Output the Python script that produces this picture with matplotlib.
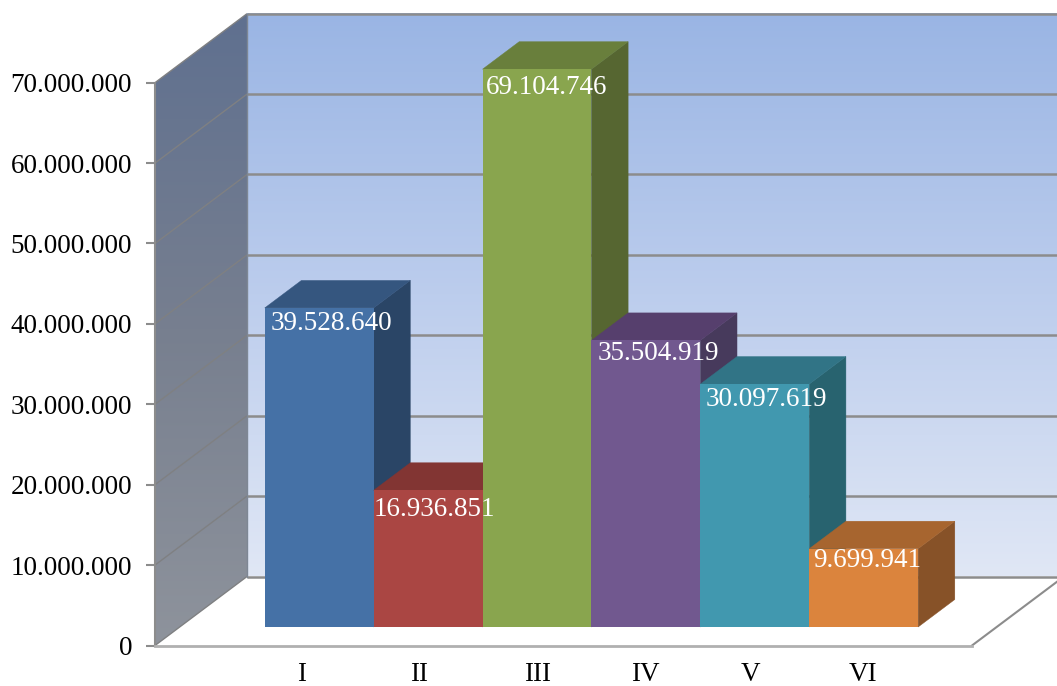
import numpy as np
import matplotlib
matplotlib.use("Agg")
import matplotlib.pyplot as plt
from matplotlib.patches import Polygon
from matplotlib.colors import LinearSegmentedColormap

categories = ["I", "II", "III", "IV", "V", "VI"]
values = [39528640, 16936851, 69104746, 35504919, 30097619, 9699941]
value_labels = ["39.528.640", "16.936.851", "69.104.746", "35.504.919", "30.097.619", "9.699.941"]
y_ticks = [0, 10000000, 20000000, 30000000, 40000000, 50000000, 60000000, 70000000]
y_tick_labels = ["0", "10.000.000", "20.000.000", "30.000.000", "40.000.000", "50.000.000", "60.000.000", "70.000.000"]

front_colors = ["#4571A6", "#AA4643", "#89A54E", "#71588F", "#4198AF", "#DB843D"]
top_colors = ["#35567F", "#823533", "#697F3C", "#563F6D", "#317486", "#A7652F"]
side_colors = ["#2A4566", "#6A2B2A", "#566631", "#473A5C", "#28636F", "#875228"]

# layout (pixels of the 1057x686 canvas)
W, H = 1057, 686
AX_L, AX_B = 155, 645.5
CAT_W = 108.9
CAT0 = 319.2
PX_PER_UNIT = 80.4 / 1e7
WALL_DX, WALL_DY = 92.0, 69.0
BAR_D0, BAR_D1 = 18.5 / 69, 46 / 69
BAR_SCALE = 1.004
FLOOR_RIGHT = 972
FONT_SIZE = 19.5
cat_label_nudge = [-18, -9, 1, -1, -4, -1]
val_label_dx = [6, 0, 3, 6, 5, 4]
val_label_dy = [16, 19, 18, 13, 15, 12]

plt.rcParams["font.family"] = ["Liberation Serif", "DejaVu Serif"]
fig = plt.figure(figsize=(W / 100, H / 100), dpi=100, facecolor="white")
ax = fig.add_axes([AX_L / W, (H - AX_B) / H, (W - AX_L) / W, AX_B / H])
xlim = ((AX_L - CAT0) / CAT_W, (W - CAT0) / CAT_W)
ylim = (0, AX_B / PX_PER_UNIT)


def project(c, v, d):
    """Category / value / depth (0 front, 1 back wall) to axes data coordinates."""
    return c + (d - BAR_D0) * WALL_DX / CAT_W, v + d * WALL_DY / PX_PER_UNIT


left_c = xlim[0] + BAR_D0 * WALL_DX / CAT_W
right_c = (FLOOR_RIGHT - CAT0) / CAT_W + BAR_D0 * WALL_DX / CAT_W
top_v = y_ticks[-1]

# back wall gradient
back_cmap = LinearSegmentedColormap.from_list("back", ["#9AB5E4", "#BCCDED", "#E0E7F5"])
x_back, y_top = project(left_c, top_v, 1)
_, y_bot = project(left_c, 0, 1)
ax.imshow(np.linspace(0, 1, 256)[:, None], cmap=back_cmap, aspect="auto", origin="upper",
          extent=(x_back, xlim[1], y_bot, y_top), zorder=1)

# left wall gradient, clipped to its parallelogram
side_cmap = LinearSegmentedColormap.from_list("side", ["#5F7090", "#777F8F", "#8E939C"])
wall_pts = [project(left_c, 0, 0), project(left_c, top_v, 0), project(left_c, top_v, 1), project(left_c, 0, 1)]
wall_poly = Polygon(wall_pts, closed=True, fc="none", ec="none", transform=ax.transData)
ax.add_patch(wall_poly)
im = ax.imshow(np.linspace(0, 1, 256)[:, None], cmap=side_cmap, aspect="auto", origin="upper",
               extent=(xlim[0], x_back, 0, y_top), zorder=1.1)
im.set_clip_path(wall_poly)

# gridlines
GRID = "#8C8C8C"
for t in y_ticks:
    x0, y0 = project(left_c, t, 0)
    x1, y1 = project(left_c, t, 1)
    ax.plot([x0, x1], [y0, y1], color="#7F8082", lw=1.0, zorder=1.5, solid_capstyle="butt")
    ax.plot([x1, xlim[1]], [y1, y1], color=GRID, lw=1.8, zorder=1.5, solid_capstyle="butt")
ax.plot([x_back, x_back], [y_bot, y_top], color="#7E8794", lw=1.0, zorder=1.6)

# floor right edge
fx0, fy0 = project(right_c, 0, 0)
fx1, fy1 = project(right_c, 0, 1)
ax.plot([fx0, fx1], [fy0, fy1], color="#8C8C8C", lw=1.5, zorder=1.5)

# bars, left to right so each covers its neighbour's side face
base = BAR_D0 * WALL_DY / PX_PER_UNIT
bar_depth_x = (BAR_D1 - BAR_D0) * WALL_DX / CAT_W
bar_depth_y = (BAR_D1 - BAR_D0) * WALL_DY / PX_PER_UNIT
for i, v in enumerate(values):
    h = v * BAR_SCALE
    l, r = i - 0.5, i + 0.5
    t = base + h
    z = 2 + i * 0.1
    ax.add_patch(Polygon([(r, base), (r + bar_depth_x, base + bar_depth_y),
                          (r + bar_depth_x, t + bar_depth_y), (r, t)],
                         fc=side_colors[i], ec=side_colors[i], lw=0.3, zorder=z))
    ax.add_patch(Polygon([(l, t), (l + bar_depth_x, t + bar_depth_y),
                          (r + bar_depth_x, t + bar_depth_y), (r, t)],
                         fc=top_colors[i], ec=top_colors[i], lw=0.3, zorder=z))
    ax.bar(i, h, width=1.0, bottom=base, color=front_colors[i], lw=0, zorder=z + 0.01)

# value labels
for i, v in enumerate(values):
    ax.annotate(value_labels[i], xy=(i - 0.5, base + v * BAR_SCALE),
                xytext=(val_label_dx[i] * 0.72, -val_label_dy[i] * 0.72), textcoords="offset points",
                ha="left", va="center", color="white", fontsize=FONT_SIZE, zorder=5)

ax.set_xlim(xlim)
ax.set_ylim(ylim)
ax.patch.set_alpha(0)

for s in ("top", "right"):
    ax.spines[s].set_visible(False)
ax.spines["left"].set_color(GRID)
ax.spines["bottom"].set_color("#B0B0B0")
ax.spines["left"].set_linewidth(1.5)
ax.spines["bottom"].set_linewidth(2)
ax.spines["left"].set_bounds(0, top_v)
ax.spines["bottom"].set_bounds(xlim[0], (FLOOR_RIGHT - CAT0) / CAT_W)
ax.spines["left"].set_zorder(6)
ax.spines["bottom"].set_zorder(6)

ax.set_yticks(y_ticks, y_tick_labels, fontsize=FONT_SIZE, color="black")
ax.tick_params(axis="y", length=6.5, width=1.5, color=GRID, pad=10)
ax.set_xticks([i + n / CAT_W for i, n in enumerate(cat_label_nudge)], categories, fontsize=FONT_SIZE)
ax.tick_params(axis="x", length=0, pad=12)

fig.savefig("out.png", dpi=100, facecolor="white")
